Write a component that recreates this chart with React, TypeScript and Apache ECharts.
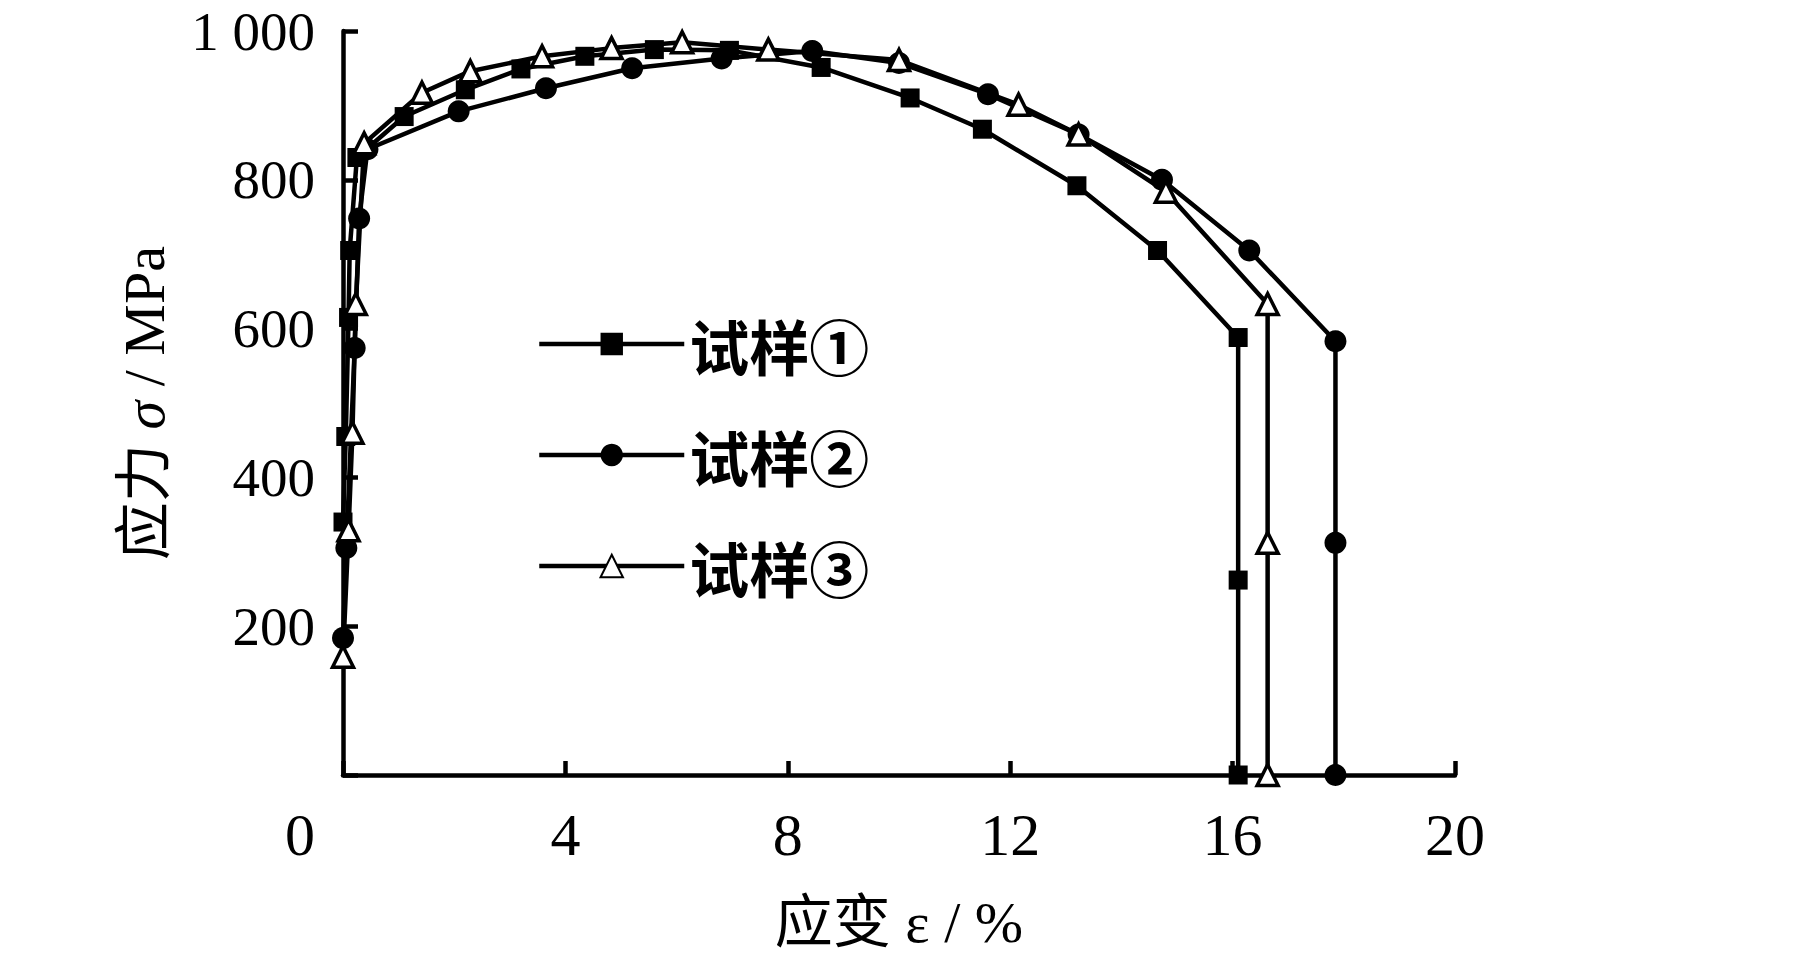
import React, { useEffect, useRef } from 'react';
import * as echarts from 'echarts';

const seriesNames = ['试样①', '试样②', '试样③'];

// 试样① (filled squares)
const strain1 = [0.0, 0.05, 0.1, 0.12, 0.25, 1.1, 2.2, 3.2, 4.35, 5.6, 6.95, 8.6, 10.2, 11.5, 13.2, 14.65, 16.1, 16.1, 16.1];
const stress1 = [340, 455, 615, 705, 830, 885, 921, 949, 966, 975, 974, 951, 910, 868, 792, 705, 588, 262, 0];

// 试样② (filled circles)
const strain2 = [0.0, 0.06, 0.21, 0.29, 0.44, 2.08, 3.65, 5.2, 6.81, 8.44, 10.0, 11.6, 13.23, 14.73, 16.3, 17.85, 17.85, 17.85];
const stress2 = [184, 305, 574, 748, 841, 892, 923, 950, 963, 973, 957, 915, 861, 800, 705, 583, 312, 0];

// 试样③ (hollow triangles)
const strain3 = [0.0, 0.1, 0.17, 0.23, 0.38, 1.42, 2.29, 3.58, 4.83, 6.1, 7.65, 10.0, 12.15, 13.23, 14.8, 16.63, 16.63, 16.63];
const stress3 = [159, 329, 460, 633, 849, 917, 946, 966, 977, 985, 975, 961, 901, 861, 784, 633, 312, 0];

const xMin = 0;
const xMax = 20;
const xStep = 4;
const yMin = 0;
const yMax = 1000;
const yStep = 200;

const xTitle = '应变 ε / %';
const yTitle = '应力 {i|σ} / MPa';

const FONT = '"Liberation Serif", "Noto Sans CJK SC", serif';
const CJK = '"Noto Sans CJK SC", "Liberation Serif", sans-serif';

function zip(xs: number[], ys: number[]) {
  return xs.map((x, i) => [x, ys[i]]);
}

export default function App() {
  const ref = useRef<HTMLDivElement>(null);

  useEffect(() => {
    if (!ref.current) return;
    const chart = echarts.init(ref.current, undefined, { renderer: 'svg' });
    const lineW = 4.5;
    const common = {
      type: 'line',
      showAllSymbol: true,
      lineStyle: { color: '#000', width: lineW },
      emphasis: { disabled: true },
    };
    chart.setOption({
      animation: false,
      backgroundColor: '#fff',
      grid: { left: 343, right: 364, top: 31, bottom: 191, outerBoundsMode: 'none' },
      legend: {
        orient: 'vertical',
        left: 532,
        top: 309,
        itemWidth: 145,
        itemHeight: 28,
        itemGap: 51,
        selectedMode: false,
        lineStyle: { width: lineW, color: '#000' },
        textStyle: { fontSize: 60, lineHeight: 60, fontFamily: CJK, color: '#000', fontWeight: 'bold' },
        data: seriesNames,
      },
      xAxis: {
        type: 'value',
        min: xMin,
        max: xMax,
        interval: xStep,
        name: xTitle,
        nameLocation: 'middle',
        nameGap: 118,
        nameTextStyle: { fontSize: 58, fontFamily: FONT, color: '#000' },
        axisLine: { onZero: false, lineStyle: { color: '#000', width: lineW } },
        axisTick: { inside: true, length: 14, lineStyle: { color: '#000', width: lineW } },
        splitLine: { show: false },
        axisLabel: {
          margin: 30,
          fontSize: 60,
          fontFamily: FONT,
          color: '#000',
          formatter: (v: number) => (v === 0 ? '{o|0}' : String(v)),
          rich: { o: { fontSize: 60, fontFamily: FONT, color: '#000', padding: [0, 86, 0, 0] } },
        },
      },
      yAxis: {
        type: 'value',
        min: yMin,
        max: yMax,
        interval: yStep,
        name: yTitle,
        nameLocation: 'middle',
        nameGap: 170,
        nameRotate: 90,
        nameTextStyle: {
          fontSize: 58,
          fontFamily: FONT,
          color: '#000',
          rich: { i: { fontSize: 58, fontFamily: FONT, fontStyle: 'italic', color: '#000' } },
        },
        axisLine: { lineStyle: { color: '#000', width: lineW } },
        axisTick: { inside: true, length: 15, lineStyle: { color: '#000', width: lineW } },
        splitLine: { show: false },
        axisLabel: {
          margin: 28,
          fontSize: 55,
          lineHeight: 55,
          fontFamily: FONT,
          color: '#000',
          formatter: (v: number) => (v === 0 ? '' : v === 1000 ? '1 000' : String(v)),
        },
      },
      series: [
        {
          ...common,
          name: seriesNames[0],
          symbol: 'rect',
          symbolSize: 19,
          itemStyle: { color: '#000' },
          data: zip(strain1, stress1),
        },
        {
          ...common,
          name: seriesNames[1],
          symbol: 'circle',
          symbolSize: 22,
          itemStyle: { color: '#000' },
          data: zip(strain2, stress2),
        },
        {
          ...common,
          name: seriesNames[2],
          symbol: 'triangle',
          symbolSize: 21,
          itemStyle: { color: '#fff', borderColor: '#000', borderWidth: 3.5 },
          data: zip(strain3, stress3),
        },
      ],
    });
    return () => chart.dispose();
  }, []);

  return (
    <div
      ref={ref}
      style={{ position: 'fixed', left: 0, top: 0, width: 1819, height: 966, background: '#fff' }}
    />
  );
}
